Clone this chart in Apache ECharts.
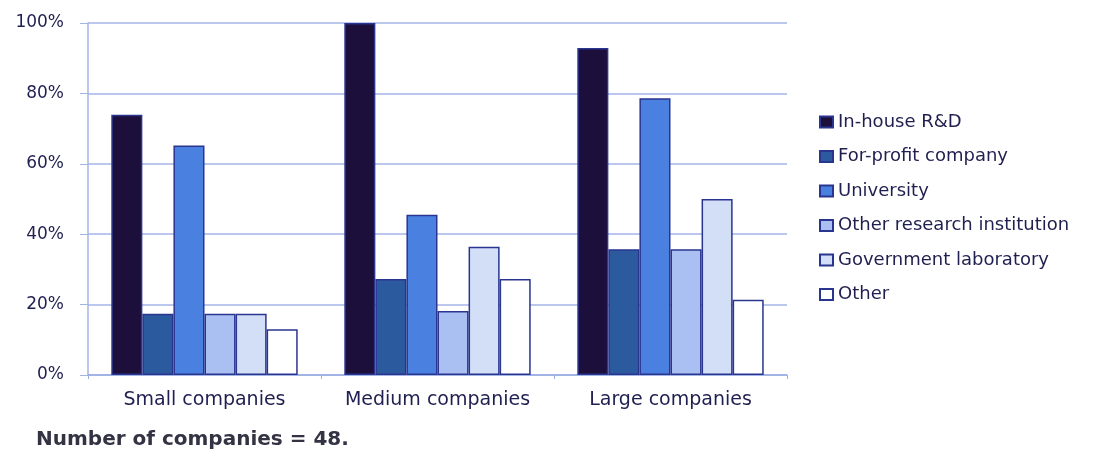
<!DOCTYPE html>
<html>
<head>
<meta charset="utf-8">
<script src="https://cdn.jsdelivr.net/npm/echarts@6/dist/echarts.min.js"></script>
<style>
html,body{margin:0;padding:0;background:#fff;}
#c{width:1098px;height:459px;}
</style>
</head>
<body>
<div id="c"></div>
<script>
const categories = ['Small companies', 'Medium companies', 'Large companies'];
const seriesNames = ['In-house R&D', 'For-profit company', 'University', 'Other research institution', 'Government laboratory', 'Other'];
const inHouse = [73.9, 100, 92.9];
const forProfit = [17.4, 27.3, 35.7];
const university = [65.2, 45.5, 78.6];
const otherResearch = [17.4, 18.2, 35.7];
const government = [17.4, 36.4, 50.0];
const other = [13.0, 27.3, 21.4];
const yTicks = [0, 20, 40, 60, 80, 100];
const footnote = 'Number of companies = 48.';

const values = [inHouse, forProfit, university, otherResearch, government, other];
const fills = ['#1d0f3c', '#2c5a9e', '#4a80e0', '#aac0f2', '#d3dff7', '#ffffff'];
const border = '#2a3590';
const textColor = '#1f1f50';
const font = 'DejaVu Sans';

const chart = echarts.init(document.getElementById('c'), null, {renderer: 'canvas'});
chart.setOption({
  animation: false,
  backgroundColor: '#ffffff',
  title: {
    text: footnote,
    left: 31,
    top: 425,
    textStyle: {fontFamily: font, fontSize: 20, fontWeight: 'bold', color: '#333344'}
  },
  grid: {left: 88, right: 311, top: 23, bottom: 84, containLabel: false},
  legend: {
    orient: 'vertical',
    left: 814,
    top: 107,
    itemWidth: 13,
    itemHeight: 11,
    itemGap: 14.5,
    icon: 'rect',
    data: seriesNames,
    textStyle: {fontFamily: font, fontSize: 18, color: textColor, lineHeight: 20}
  },
  xAxis: {
    type: 'category',
    data: categories,
    axisLine: {lineStyle: {color: '#9aaee2', width: 1.5}},
    axisTick: {show: true, length: 4, lineStyle: {color: '#9aaee2'}},
    axisLabel: {interval: 0, fontFamily: font, fontSize: 19, color: textColor, margin: 16}
  },
  yAxis: {
    type: 'value',
    min: yTicks[0],
    max: yTicks[yTicks.length - 1],
    interval: 20,
    axisLine: {show: true, lineStyle: {color: '#a4b4e6', width: 1.5}},
    axisTick: {show: true, length: 8, lineStyle: {color: '#a4b4e6'}},
    splitLine: {lineStyle: {color: '#a4b4e6', width: 1.5}},
    axisLabel: {fontFamily: font, fontSize: 17, color: textColor, margin: 24, formatter: '{value}%'}
  },
  series: seriesNames.map((n, i) => ({
    name: n,
    type: 'bar',
    data: values[i],
    barGap: '0%',
    barCategoryGap: '20%',
    itemStyle: {color: fills[i], borderColor: border, borderWidth: 1.5}
  }))
});
</script>
</body>
</html>
